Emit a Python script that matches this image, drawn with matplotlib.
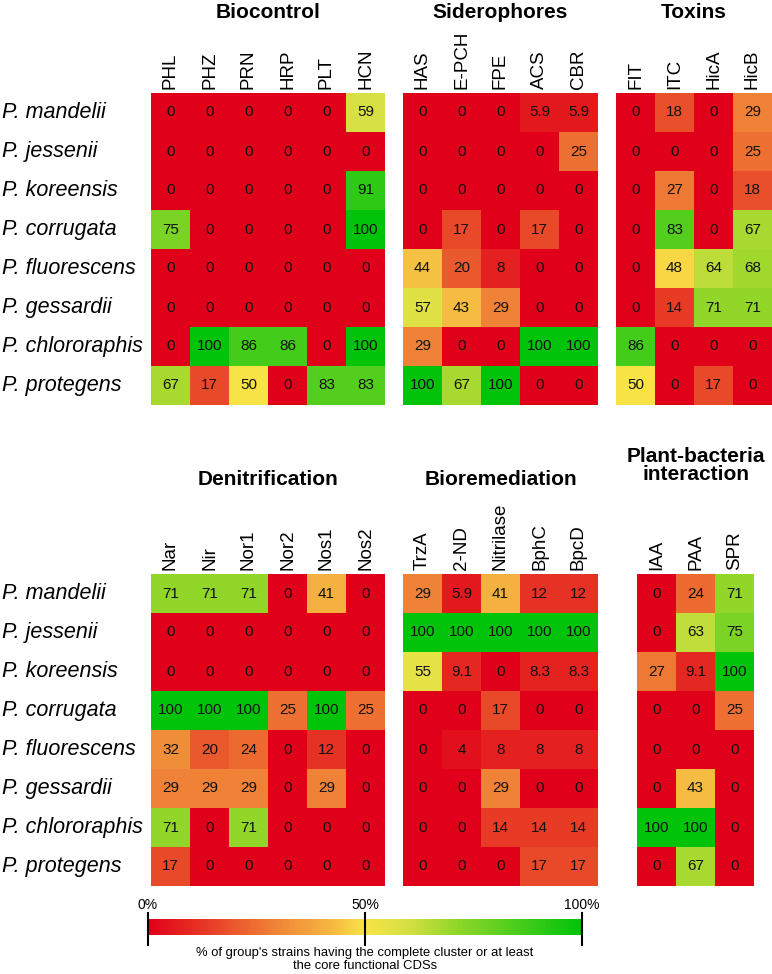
import numpy as np
import matplotlib
matplotlib.use('Agg')
import matplotlib.pyplot as plt
import matplotlib.transforms as mtrans
from matplotlib.colors import LinearSegmentedColormap, Normalize
from matplotlib.cm import ScalarMappable

matplotlib.rcParams['font.family'] = ['Liberation Sans', 'DejaVu Sans']

# ---- data -----------------------------------------------------------------
species = ['P. mandelii', 'P. jessenii', 'P. koreensis', 'P. corrugata',
           'P. fluorescens', 'P. gessardii', 'P. chlororaphis', 'P. protegens']

biocontrol_genes = ['PHL', 'PHZ', 'PRN', 'HRP', 'PLT', 'HCN']
biocontrol = [[0, 0, 0, 0, 0, 59],
              [0, 0, 0, 0, 0, 0],
              [0, 0, 0, 0, 0, 91],
              [75, 0, 0, 0, 0, 100],
              [0, 0, 0, 0, 0, 0],
              [0, 0, 0, 0, 0, 0],
              [0, 100, 86, 86, 0, 100],
              [67, 17, 50, 0, 83, 83]]

sidero_genes = ['HAS', 'E-PCH', 'FPE', 'ACS', 'CBR']
sidero = [[0, 0, 0, 5.9, 5.9],
          [0, 0, 0, 0, 25],
          [0, 0, 0, 0, 0],
          [0, 17, 0, 17, 0],
          [44, 20, 8, 0, 0],
          [57, 43, 29, 0, 0],
          [29, 0, 0, 100, 100],
          [100, 67, 100, 0, 0]]

toxin_genes = ['FIT', 'ITC', 'HicA', 'HicB']
toxins = [[0, 18, 0, 29],
          [0, 0, 0, 25],
          [0, 27, 0, 18],
          [0, 83, 0, 67],
          [0, 48, 64, 68],
          [0, 14, 71, 71],
          [86, 0, 0, 0],
          [50, 0, 17, 0]]

denit_genes = ['Nar', 'Nir', 'Nor1', 'Nor2', 'Nos1', 'Nos2']
denit = [[71, 71, 71, 0, 41, 0],
         [0, 0, 0, 0, 0, 0],
         [0, 0, 0, 0, 0, 0],
         [100, 100, 100, 25, 100, 25],
         [32, 20, 24, 0, 12, 0],
         [29, 29, 29, 0, 29, 0],
         [71, 0, 71, 0, 0, 0],
         [17, 0, 0, 0, 0, 0]]

biorem_genes = ['TrzA', '2-ND', 'Nitrilase', 'BphC', 'BpcD']
biorem = [[29, 5.9, 41, 12, 12],
          [100, 100, 100, 100, 100],
          [55, 9.1, 0, 8.3, 8.3],
          [0, 0, 17, 0, 0],
          [0, 4, 8, 8, 8],
          [0, 0, 29, 0, 0],
          [0, 0, 14, 14, 14],
          [0, 0, 0, 17, 17]]

plant_genes = ['IAA', 'PAA', 'SPR']
plant = [[0, 24, 71],
         [0, 63, 75],
         [27, 9.1, 100],
         [0, 0, 25],
         [0, 0, 0],
         [0, 43, 0],
         [100, 100, 0],
         [0, 67, 0]]

cbar_ticks = [0, 50, 100]
cbar_labels = ['0%', '50%', '100%']

# ---- style ----------------------------------------------------------------
cmap = LinearSegmentedColormap.from_list('ryg', [
    (0.00, (225/255, 0/255, 25/255)),
    (0.15, (232/255, 65/255, 40/255)),
    (0.30, (240/255, 135/255, 55/255)),
    (0.42, (245/255, 182/255, 65/255)),
    (0.50, (248/255, 228/255, 70/255)),
    (0.60, (212/255, 224/255, 68/255)),
    (0.70, (150/255, 215/255, 42/255)),
    (0.85, (75/255, 205/255, 28/255)),
    (1.00, (0/255, 195/255, 10/255))])
norm = Normalize(0, 100)

W, H = 772, 974
fig = plt.figure(figsize=(W/100, H/100), dpi=100)


def px_axes(x0, y0, x1, y1):
    return fig.add_axes([x0/W, 1 - y1/H, (x1 - x0)/W, (y1 - y0)/H])


panels = [('Biocontrol', biocontrol_genes, biocontrol, (151, 93, 385, 405), True, 22),
          ('Siderophores', sidero_genes, sidero, (403, 93, 598, 405), False, 22),
          ('Toxins', toxin_genes, toxins, (616, 93, 772, 405), False, 22),
          ('Denitrification', denit_genes, denit, (151, 574, 385, 886), True, 489),
          ('Bioremediation', biorem_genes, biorem, (403, 574, 598, 886), False, 489),
          ('Plant-bacteria\ninteraction', plant_genes, plant, (637, 574, 754, 886), False, 484)]

for title, genes, vals, box, show_rows, ty in panels:
    vals = np.array(vals, dtype=float)
    ax = px_axes(*box)
    ax.imshow(vals, cmap=cmap, norm=norm, aspect='auto', interpolation='nearest')
    for i in range(vals.shape[0]):
        for j in range(vals.shape[1]):
            ax.text(j, i, '{:g}'.format(vals[i, j]), ha='center', va='center',
                    fontsize=11, color='#111111')
    ax.xaxis.tick_top()
    ax.set_xticks(range(len(genes)))
    ax.set_xticklabels(genes, rotation=90, fontsize=13.5)
    ax.tick_params(axis='x', length=0, pad=3)
    ax.set_yticks([])
    for s in ax.spines.values():
        s.set_visible(False)
    if show_rows:
        tr = mtrans.blended_transform_factory(fig.transFigure, ax.transData)
        for i, sp in enumerate(species):
            ax.text(2/W, i, sp, transform=tr, ha='left', va='center',
                    fontsize=15.5, style='italic')
    ttr = mtrans.blended_transform_factory(ax.transAxes, fig.transFigure)
    ax.text(0.5, 1 - ty/H, title, transform=ttr, ha='center', va='bottom',
            fontsize=15, fontweight='bold', linespacing=0.9)

# ---- colour bar -----------------------------------------------------------
cax = px_axes(148, 919, 582, 935)
cb = fig.colorbar(ScalarMappable(norm=norm, cmap=cmap), cax=cax,
                  orientation='horizontal')
cb.outline.set_visible(False)
cax.set_xticks([])
for v, lab in zip(cbar_ticks, cbar_labels):
    cax.plot([v, v], [-0.65, 1.38], color='black', lw=1.5, clip_on=False)
    cax.text(v, 1.45, lab, ha='center', va='bottom', fontsize=10)
cax.text(50, -0.75, "% of group's strains having the complete cluster or at least\n"
         "the core functional CDSs", ha='center', va='top', fontsize=9.4,
         linespacing=1.15)

fig.savefig('out.png', dpi=100)
